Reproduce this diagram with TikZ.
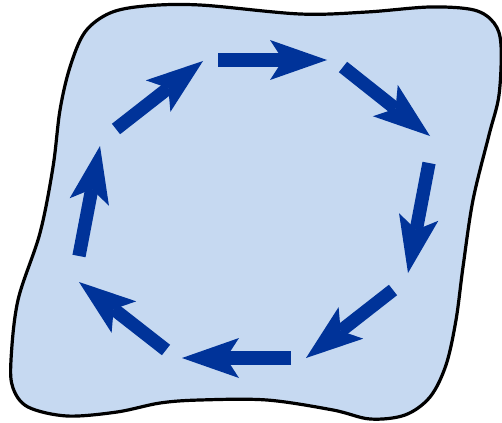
\documentclass[tikz,border=0pt]{standalone}
\usetikzlibrary{arrows.meta}
\definecolor{blobfill}{HTML}{C6D9F1}
\definecolor{arrowblue}{HTML}{003399}
\begin{document}
\begin{tikzpicture}[x=1pt,y=-1pt,
  flow/.style={draw=arrowblue,line width=13.3pt,line cap=butt,
    -{Stealth[length=57pt,width=40pt,inset=13pt,line width=0pt]}},
  blob/.style={draw=black,line width=3.2pt,fill=blobfill,line join=round}]
\useasboundingbox (0,0) rectangle (502,422);
\draw[blob] plot[smooth cycle,tension=0.55] coordinates {
  (200,5) (300,14) (367,12) (430,7) (474,10) (494,23) (501,45) (499,95)
  (489,135) (473,200) (463,267) (456,320) (446,365) (430,397) (405,415)
  (370,419) (333,410) (267,400) (200,400) (160,403) (117,412) (67,416)
  (28,407) (13,388) (11,360) (18,300) (40,233) (53,167) (60,110)
  (70,67) (85,32) (110,13) (145,6)};
\coordinate (t1) at (218,60);  \coordinate (h1) at (327,60);
\coordinate (t2) at (343,67);  \coordinate (h2) at (430,136);
\coordinate (t3) at (429,163); \coordinate (h3) at (408,273);
\coordinate (t4) at (393,290); \coordinate (h4) at (306,358);
\coordinate (t5) at (291,358); \coordinate (h5) at (182,358);
\coordinate (t6) at (166,350); \coordinate (h6) at (79,282);
\coordinate (t7) at (79,256);  \coordinate (h7) at (100,146);
\coordinate (t8) at (116,129); \coordinate (h8) at (203,61);
\foreach \i in {1,...,8}{\draw[flow] (t\i) -- (h\i);}
\end{tikzpicture}
\end{document}
